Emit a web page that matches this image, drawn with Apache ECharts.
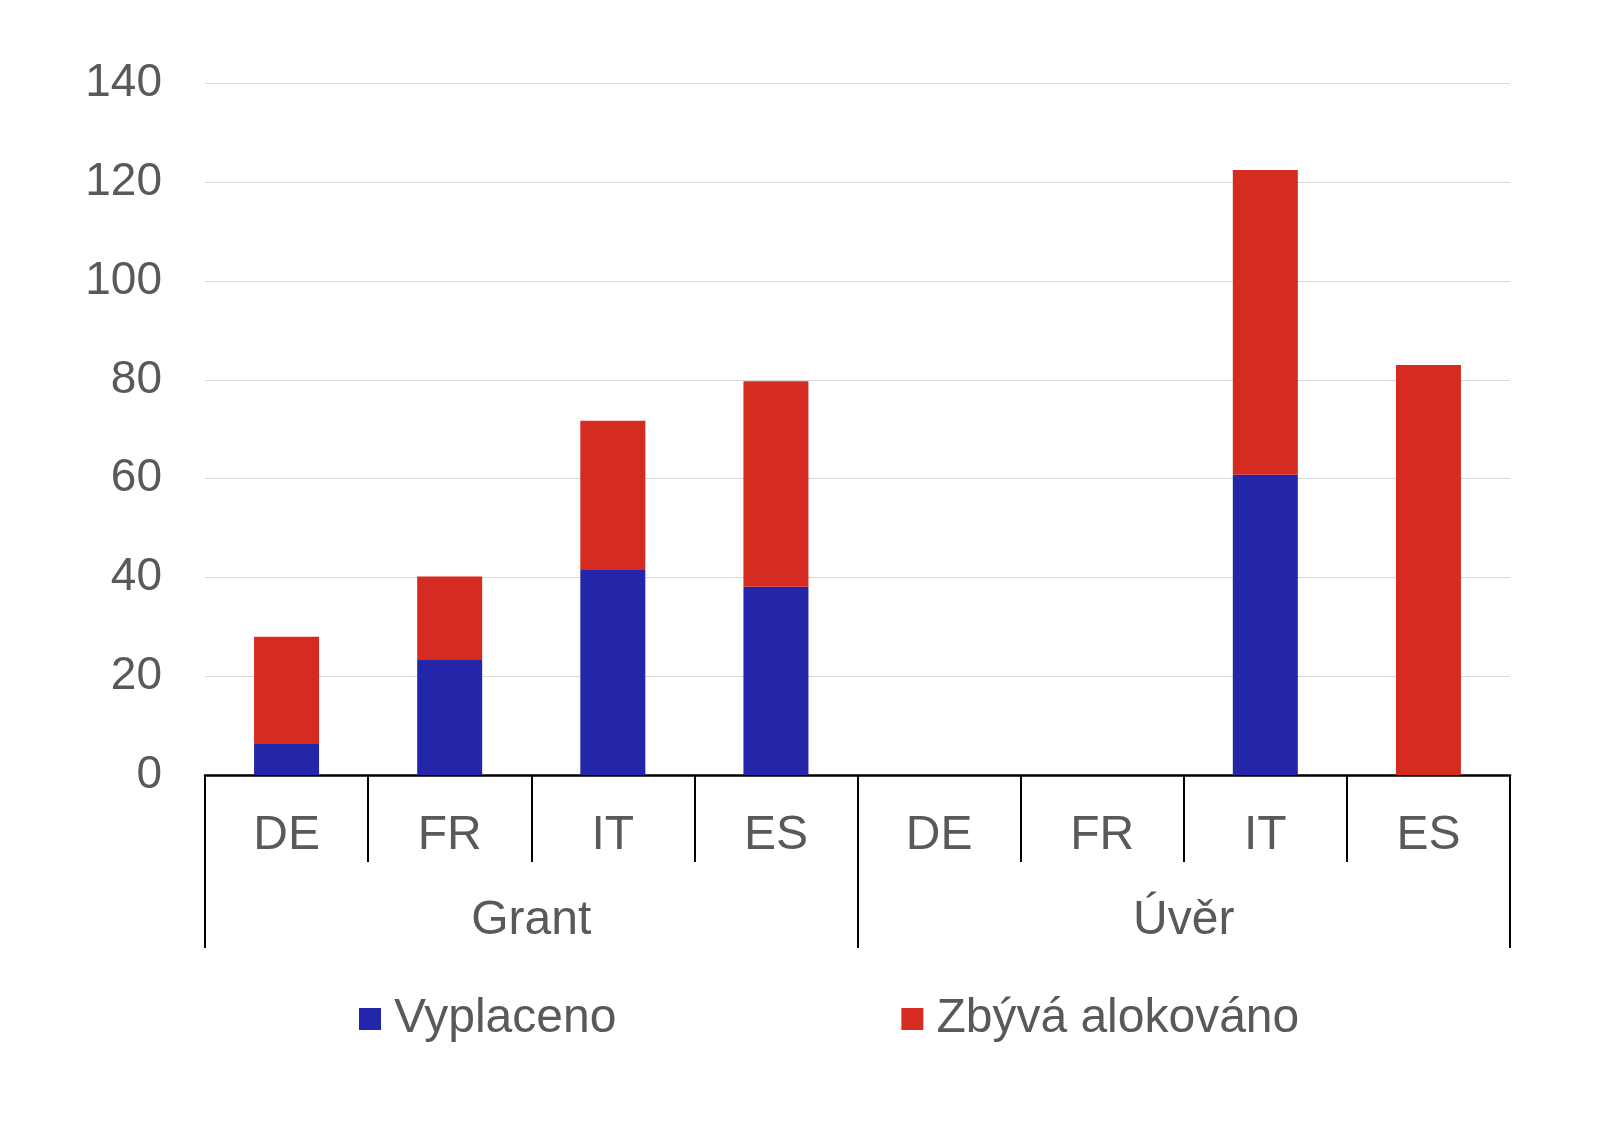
<!DOCTYPE html>
<html><head><meta charset="utf-8">
<script src="https://cdn.jsdelivr.net/npm/echarts@6/dist/echarts.min.js"></script>
<style>html,body{margin:0;padding:0;background:#fff}#c{width:1616px;height:1125px}</style>
</head><body><div id="c"></div>
<script>
const categories = ['DE','FR','IT','ES','DE','FR','IT','ES'];
const groups = ['Grant','Úvěr'];
const vyplaceno = [6.3, 23.3, 41.5, 38.1, null, null, 60.8, 0];
const zbyva = [21.7, 16.9, 30.2, 41.6, null, null, 61.7, 83.0];
const yTicks = {min:0, max:140, interval:20};
const seriesNames = ['Vyplaceno','Zbývá alokováno'];

const FONT = 'Liberation Sans, Arial, sans-serif';
const TXT = '#595959';
const chart = echarts.init(document.getElementById('c'));
chart.setOption({
  animation:false,
  backgroundColor:'#fff',
  grid:{left:205, right:106, top:83.5, bottom:350, containLabel:false},
  legend:{
    left:359, top:995, padding:0, itemWidth:22, itemHeight:22, itemGap:285, icon:'rect',
    textStyle:{fontFamily:FONT, fontSize:48, color:TXT, padding:[0,0,0,8], lineHeight:48},
    data:seriesNames
  },
  xAxis:[{
    type:'category', data:categories, position:'bottom',
    axisLine:{show:true, lineStyle:{color:'#000', width:2.5}},
    axisTick:{show:true, length:87, lineStyle:{color:'#000', width:2}},
    axisLabel:{fontFamily:FONT, fontSize:48, color:TXT, margin:37, lineHeight:48},
    splitLine:{show:false}
  },{
    type:'category', data:groups, position:'bottom', offset:0,
    axisLine:{show:false},
    axisTick:{show:true, length:173, lineStyle:{color:'#000', width:2}},
    axisLabel:{fontFamily:FONT, fontSize:48, color:TXT, margin:122, lineHeight:48},
    splitLine:{show:false}
  }],
  yAxis:{
    type:'value', min:yTicks.min, max:yTicks.max, interval:yTicks.interval,
    axisLine:{show:false}, axisTick:{show:false},
    axisLabel:{fontFamily:FONT, fontSize:46, color:TXT, margin:43, lineHeight:50},
    splitLine:{lineStyle:{color:'#d9d9d9', width:1.2}}
  },
  series:[
    {name:seriesNames[0], type:'bar', stack:'a', data:vyplaceno, barWidth:65, xAxisIndex:0,
     itemStyle:{color:'#2326A8'}},
    {name:seriesNames[1], type:'bar', stack:'a', data:zbyva, barWidth:65, xAxisIndex:0,
     itemStyle:{color:'#D62B20'}}
  ]
});
</script></body></html>
